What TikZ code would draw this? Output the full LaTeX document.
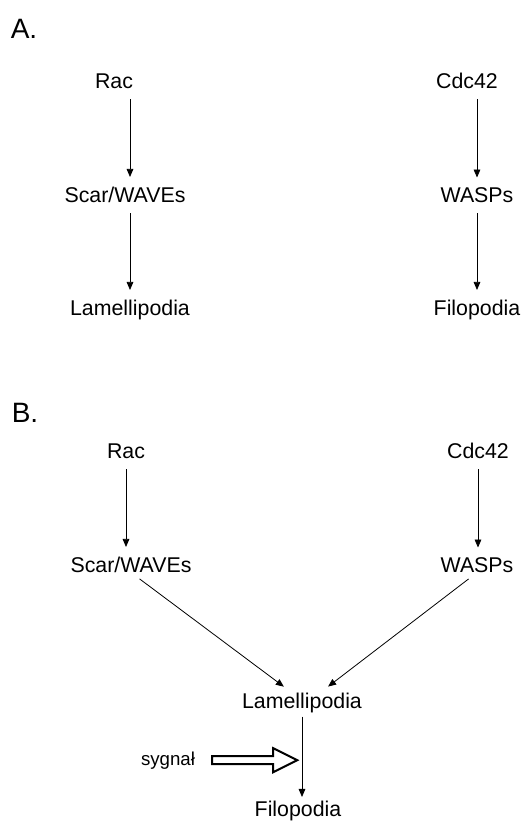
\documentclass[tikz,border=0pt]{standalone}
\usepackage{fontspec}
\setmainfont{Liberation Sans}
\usetikzlibrary{arrows.meta}

\begin{document}
\begin{tikzpicture}[x=0.75pt, y=-0.75pt,
    lbl/.style={font=\fontsize{16}{19}\selectfont, inner sep=0pt, anchor=base},
    part/.style={font=\fontsize{21}{25}\selectfont, inner sep=0pt, anchor=base},
    arr/.style={-{Triangle[width=5pt,length=6pt]}, line width=0.6pt, shorten <=8pt, shorten >=7pt},
    hollowarr/.style={line width=1.5pt, line join=miter}]
    \useasboundingbox (0,0) rectangle (531,822);

    % Part A
    \node[part] (labA) at (24,38) {A.};
    \node[lbl] (racA) at (114,88) {Rac};
    \node[lbl] (scarA) at (125,202) {Scar/WAVEs};
    \node[lbl] (lamA) at (130,315) {Lamellipodia};
    \node[lbl] (cdcA) at (467,88) {Cdc42};
    \node[lbl] (wasA) at (477,202) {WASPs};
    \node[lbl] (filA) at (477,315) {Filopodia};

    \draw[arr] (racA.south -| lamA) -- (scarA.north -| lamA);
    \draw[arr] (scarA.south -| lamA) -- (lamA.north);
    \draw[arr] (cdcA.south -| wasA) -- (wasA.north);
    \draw[arr] (wasA.south) -- (filA.north);

    % Part B
    \node[part] (labB) at (25,422) {B.};
    \node[lbl] (racB) at (126,458) {Rac};
    \node[lbl] (scarB) at (131,572) {Scar/WAVEs};
    \node[lbl] (cdcB) at (478,458) {Cdc42};
    \node[lbl] (wasB) at (477,572) {WASPs};
    \node[lbl] (lamB) at (302,708) {Lamellipodia};
    \node[lbl] (filB) at (298,816) {Filopodia};
    \node[lbl, font=\fontsize{14}{17}\selectfont] (sig) at (168,765) {sygnał};

    \draw[arr] (racB.south) -- (racB.south |- scarB.north);
    \draw[arr] (cdcB.south) -- (cdcB.south |- wasB.north);
    \draw[arr] (scarB.south) -- ([xshift=-8pt]lamB.north);
    \draw[arr] (wasB.south) -- ([xshift=14pt]lamB.north);
    \draw[arr, shorten <=3pt, shorten >=2.5pt] (lamB.south) -- (lamB.south |- filB.north);

    % signal arrow
    \draw[hollowarr] ([xshift=12.75pt]sig.east) ++(0,-4) -- ++(61,0) -- ++(0,-8)
        -- ++(24,12) -- ++(-24,12) -- ++(0,-8) -- ++(-61,0) -- cycle;
\end{tikzpicture}
\end{document}
